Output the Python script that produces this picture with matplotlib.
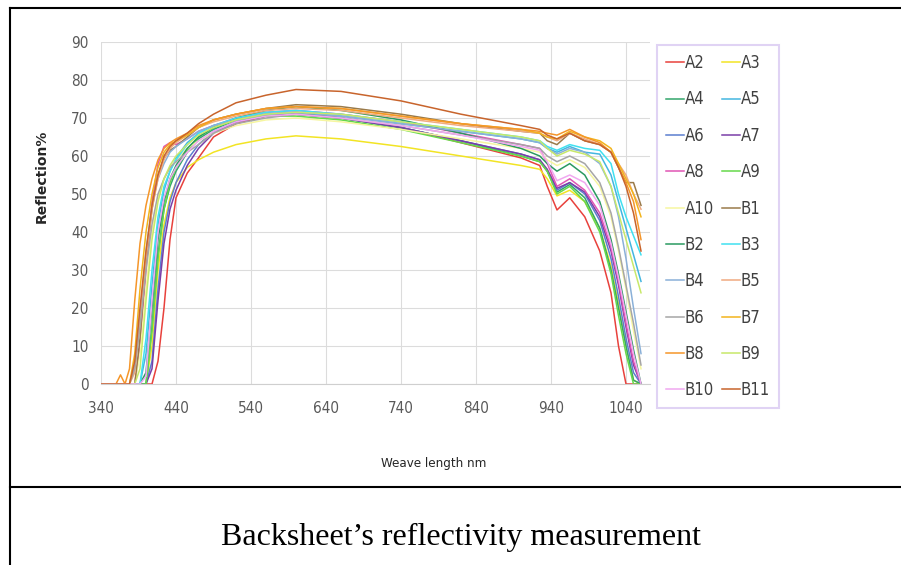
import matplotlib.pyplot as plt
from matplotlib.lines import Line2D

# wavelength grid (nm) and reflection %
wl = [340, 360, 366, 372, 378, 385, 392, 400, 408, 416, 424, 432, 440, 455, 470, 490, 520, 560, 600,
      660, 740, 820, 900, 925, 935, 948, 965, 985, 1005, 1020, 1030, 1040, 1050, 1060]

a2 = [0, 0, 0, 0, 0, 0, 0, 0, 0, 6, 20, 38, 49, 55.5, 59.5, 65, 68.5, 70.5, 71, 70, 67.5, 63.5, 59.5,
      57.5, 52, 45.8, 49, 44, 35, 24, 10, 0, 0, 0]
a3 = [0, 0, 0, 0, 0, 0, 0, 0, 10, 30, 42, 49, 53, 57, 59, 61, 63, 64.5, 65.3, 64.5, 62.5, 60, 57.5,
      56.5, 54, 49.5, 51, 48, 41, 31, 21, 10, 1, 0]
a4 = [0, 0, 0, 0, 0, 0, 0, 0, 15, 34, 46, 52, 56, 61, 64.5, 67, 69.5, 71, 71.5, 70, 67.5, 64, 60,
      58.5, 56, 50.5, 52.5, 49, 41, 30, 20, 10, 1, 0]
a5 = [0, 0, 0, 0, 0, 0, 0, 8, 26, 42, 51, 56, 59.5, 63.5, 66, 68, 69.5, 71, 71.5, 70.5, 68.5, 66.5, 64.5,
      63.5, 62, 61, 62.5, 61, 60.5, 55, 48, 41, 34, 27]
a6 = [0, 0, 0, 0, 0, 0, 0, 0, 6, 25, 40, 48, 53, 59, 63, 66.5, 69, 70.5, 71, 70, 67.5, 64, 60.5,
      59, 56, 51, 53, 50, 43, 33, 23, 12, 3, 0]
a7 = [0, 0, 0, 0, 0, 0, 0, 0, 4, 22, 37, 46, 51, 57.5, 62, 66, 69, 70.5, 71, 70, 67.5, 64, 60.5,
      59, 56.5, 51.5, 53, 50.5, 44, 35, 26, 15, 5, 0]
a8 = [0, 0, 0, 0, 0, 0, 10, 30, 48, 58, 62.5, 63.5, 63, 64.5, 66.5, 68, 70, 71.5, 72, 71, 69, 66, 63,
      62, 58, 52, 54, 51, 45, 36, 27, 16, 6, 0]
a9 = [0, 0, 0, 0, 0, 0, 0, 0, 14, 33, 46, 53, 57, 61.5, 65, 67.5, 69.5, 70.5, 70.5, 69.5, 67, 63.5, 60,
      58.5, 56, 50, 52, 48, 40, 29, 18, 8, 0, 0]
a10 = [0, 0, 0, 0, 0, 0, 8, 25, 40, 49, 54, 57, 59, 62, 64, 66, 68, 69.5, 70, 69, 67, 64.5, 62,
       61, 59, 57.5, 59, 57, 52, 44, 35, 25, 14, 4]
b1 = [0, 0, 0, 0, 0, 0, 12, 32, 46, 55, 59.5, 61.5, 62.5, 65, 67.5, 69.5, 71, 72.5, 73.5, 73, 71, 68.5, 66.5,
      66, 64, 63, 66, 64, 63, 61, 57, 53, 53, 47]
b2 = [0, 0, 0, 0, 0, 0, 0, 3, 20, 38, 48, 54, 57.5, 62, 65, 67.5, 70, 72, 73, 72, 69.5, 66, 62,
      60, 58, 56, 58, 55, 48, 38, 29, 19, 9, 0]
b3 = [0, 0, 0, 0, 0, 0, 0, 12, 30, 44, 52, 56, 59, 63, 66, 68, 70, 71.5, 72, 71, 69, 67, 65,
      64, 62.5, 61.5, 63, 62, 61.5, 58, 50, 44, 39, 34]
b4 = [0, 0, 0, 0, 0, 5, 18, 35, 47, 54, 58, 61, 62.5, 64.5, 66.5, 68, 69.5, 71, 71.5, 70.5, 68.5, 66.5, 64.5,
      63.5, 62, 60.5, 62, 61, 58, 52, 44, 33, 20, 8]
b5 = [0, 0, 0, 0, 0, 3, 16, 33, 46, 54, 59, 62, 63.5, 65.5, 67.5, 69, 70.5, 72, 72.5, 72, 70, 68, 66.5,
      66, 65, 64, 66, 64.5, 63, 61, 58, 55, 50, 46]
b6 = [0, 0, 0, 0, 0, 4, 15, 30, 42, 50, 54, 57, 58.5, 61, 63, 66, 68.5, 70, 71, 70, 68, 65.5, 63,
      62, 60, 58.5, 60, 58, 53, 45, 36, 26, 16, 5]
b7 = [0, 0, 0, 0, 0, 8, 25, 40, 50, 57, 61, 63, 64, 65.5, 67.5, 69.5, 71, 72.5, 73, 72.5, 70.5, 68.5, 67,
      66, 65, 64.5, 66.5, 65, 64, 62, 58, 54, 50, 44]
b8 = [0, 0, 2.4, 0, 4, 22, 37, 47, 54, 59, 62, 63.5, 64.5, 66, 68, 69.5, 71, 72.5, 73, 72.5, 70.5, 68.5, 67,
      66.5, 66, 65.5, 67, 65, 63.5, 61, 57, 53, 48, 38]
b9 = [0, 0, 0, 0, 0, 0, 4, 22, 38, 48, 54, 57.5, 60, 63, 65.5, 67.5, 69.5, 71, 71.5, 71, 69, 67, 65,
      64, 62, 60, 61.5, 60.5, 58.5, 52, 45, 38, 31, 24]
b10 = [0, 0, 0, 0, 0, 0, 0, 2, 22, 40, 49, 54, 57, 61, 64, 66.5, 69, 70.5, 71, 70, 68, 65.5, 62.5,
       61.5, 58.5, 53.5, 55, 53, 47, 37, 28, 18, 8, 0]
b11 = [0, 0, 0, 0, 0, 6, 20, 35, 47, 55, 60, 62.5, 64, 66, 68.5, 71, 74, 76, 77.5, 77, 74.5, 71, 68,
       67, 65.5, 64.5, 66, 64, 63, 61, 57, 52, 45, 35]

names = ['A2', 'A3', 'A4', 'A5', 'A6', 'A7', 'A8', 'A9', 'A10', 'B1',
         'B2', 'B3', 'B4', 'B5', 'B6', 'B7', 'B8', 'B9', 'B10', 'B11']
series = [a2, a3, a4, a5, a6, a7, a8, a9, a10, b1, b2, b3, b4, b5, b6, b7, b8, b9, b10, b11]
colors = ['#e8413c', '#f2e424', '#33a66b', '#44b6e0', '#5b7fcf', '#7a3fa8', '#e055b4', '#66d94a',
          '#f6f6a0', '#9a7a4a', '#2a9a60', '#40e0f0', '#8ab0d8', '#f0aa80', '#a6a6a6', '#f2b41c',
          '#f5962a', '#c8e86a', '#f0a8f0', '#c8642c']

fig = plt.figure(figsize=(9.01, 5.65), dpi=100)
ax = fig.add_axes([101 / 901, 1 - 384 / 565, 549 / 901, 342 / 565])

handles = []
for name, vals, c in zip(names, series, colors):
    h, = ax.plot(wl, vals, color=c, lw=1.1, label=name)
    handles.append(h)

ax.set_xlim(340, 1072)
ax.set_ylim(0, 90)
ax.set_xticks(range(340, 1041, 100))
ax.set_yticks(range(0, 91, 10))
ax.grid(color='#dcdcdc', lw=0.8)
ax.set_axisbelow(True)
for s in ax.spines.values():
    s.set_visible(False)
ax.spines['bottom'].set_visible(True)
ax.spines['bottom'].set_color('#cfcfcf')
ax.tick_params(axis='both', length=0, labelsize=11, colors='#595959')
ax.tick_params(axis='y', pad=9)
ax.tick_params(axis='x', pad=12)
for lab in ax.get_xticklabels() + ax.get_yticklabels():
    lab.set_fontstretch('condensed')

# legend is filled row by row in the picture
order = list(range(0, 20, 2)) + list(range(1, 20, 2))
leg = fig.legend([handles[i] for i in order], [names[i] for i in order], ncol=2,
                 loc='upper left', bbox_to_anchor=(657 / 901, 1 - 45 / 565),
                 borderaxespad=0, fancybox=False, edgecolor='#d9c8f2',
                 handlelength=1.05, handletextpad=0.05, columnspacing=0.5, labelspacing=1.1,
                 borderpad=0.55, prop={'size': 12, 'stretch': 'condensed'}, labelcolor='#404040')
leg.get_frame().set_linewidth(1.5)

fig.text(42 / 901, 1 - 176 / 565, 'Reflection%', rotation=90, ha='center', va='center',
         fontsize=10, fontweight='bold', color='#262626')
fig.text(434 / 901, 1 - 464 / 565, 'Weave length nm', ha='center', va='center',
         fontsize=9.5, color='#262626', fontstretch='condensed')

# table frame around the figure
for xs, ys in [([10, 901], [8, 8]), ([10, 10], [8, 565]), ([10, 901], [487, 487])]:
    fig.add_artist(Line2D([x / 901 for x in xs], [1 - y / 565 for y in ys],
                          transform=fig.transFigure, color='black', lw=1.5))

fig.text(461 / 901, 1 - 537 / 565, 'Backsheet\u2019s reflectivity measurement', ha='center',
         va='center', fontsize=23, family='Liberation Serif')

fig.savefig('out.png', dpi=100)
